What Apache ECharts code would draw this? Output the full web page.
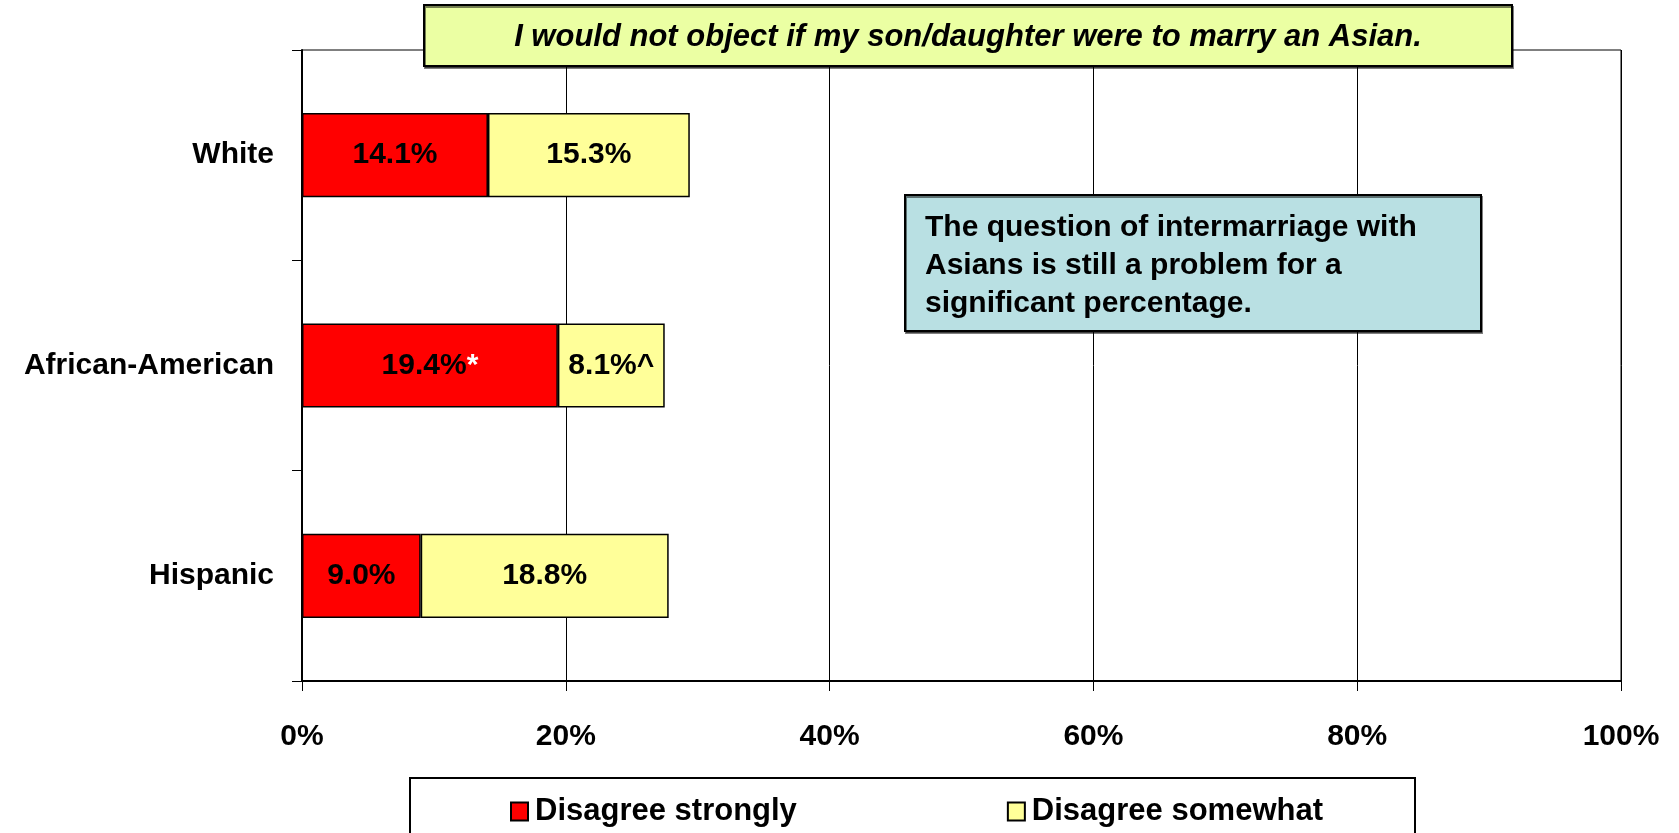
<!DOCTYPE html>
<html>
<head>
<meta charset="utf-8">
<script src="https://cdn.jsdelivr.net/npm/echarts@6/dist/echarts.min.js"></script>
<style>
html,body{margin:0;padding:0;background:#fff;}
#chart{width:1679px;height:833px;}
</style>
</head>
<body>
<div id="chart"></div>
<script>
const categories = ['White', 'African-American', 'Hispanic'];
const seriesNames = ['Disagree strongly', 'Disagree somewhat'];
const strongly = [14.1, 19.4, 9.0];
const somewhat = [15.3, 8.1, 18.8];
const stronglyMarks = ['', '*', ''];
const somewhatMarks = ['', '^', ''];
const xTicks = [0, 20, 40, 60, 80, 100];
const titleText = 'I would not object if my son/daughter were to marry an Asian.';
const noteLines = ['The question of intermarriage with', 'Asians is still a problem for a', 'significant percentage.'];

const FONT = '"Liberation Sans", Arial, Helvetica, sans-serif';
const chart = echarts.init(document.getElementById('chart'));

function labelFor(marks, markColor) {
  return {
    show: true,
    position: 'inside',
    fontFamily: FONT,
    fontWeight: 'bold',
    fontSize: 30,
    color: '#000',
    formatter: function (p) {
      const m = marks[p.dataIndex];
      return p.value.toFixed(1) + '%' + (m ? '{m|' + m + '}' : '');
    },
    rich: {
      m: { color: markColor, fontFamily: FONT, fontWeight: 'bold', fontSize: 30 }
    }
  };
}

const option = {
  backgroundColor: '#fff',
  animation: false,
  grid: {
    left: 302, right: 58, top: 50, bottom: 152,
    show: true, borderColor: '#000', borderWidth: 1, backgroundColor: 'transparent'
  },
  xAxis: {
    type: 'value', min: xTicks[0], max: xTicks[xTicks.length - 1], interval: xTicks[1] - xTicks[0],
    axisLine: { show: true, lineStyle: { color: '#000', width: 2 } },
    axisTick: { show: true, length: 10, lineStyle: { color: '#000', width: 1 } },
    splitLine: { show: true, lineStyle: { color: '#000', width: 1 } },
    axisLabel: { formatter: '{value}%', fontFamily: FONT, fontWeight: 'bold', fontSize: 30, color: '#000', margin: 41 }
  },
  yAxis: {
    type: 'category', data: categories, inverse: true,
    axisLine: { show: true, lineStyle: { color: '#000', width: 2 } },
    axisTick: { show: true, length: 10, lineStyle: { color: '#000', width: 1 } },
    axisLabel: { fontFamily: FONT, fontWeight: 'bold', fontSize: 30, color: '#000', margin: 28, padding: [4, 0, 0, 0] }
  },
  legend: {
    left: 505, top: 791, itemGap: 210, itemWidth: 17, itemHeight: 18,
    icon: 'rect',
    textStyle: { fontFamily: FONT, fontWeight: 'bold', fontSize: 31, color: '#000', padding: [0, 0, 0, 2] },
    data: seriesNames
  },
  series: [
    {
      name: seriesNames[0], type: 'bar', stack: 'total', barWidth: '40%',
      data: strongly,
      itemStyle: { color: '#FF0000', borderColor: '#000', borderWidth: 1.5 },
      label: labelFor(stronglyMarks, '#fff')
    },
    {
      name: seriesNames[1], type: 'bar', stack: 'total', barWidth: '40%',
      data: somewhat,
      itemStyle: { color: '#FFFF99', borderColor: '#000', borderWidth: 1.5 },
      label: labelFor(somewhatMarks, '#000')
    }
  ],
  graphic: [
    {
      type: 'rect', z: 100,
      shape: { x: 424, y: 5, width: 1088, height: 61 },
      style: { fill: '#EBFFA3', stroke: '#000', lineWidth: 2, shadowColor: 'rgba(0,0,0,0.5)', shadowOffsetX: 1, shadowOffsetY: 2 }
    },
    {
      type: 'text', z: 101, x: 968, y: 37,
      style: { text: titleText, fill: '#000', fontFamily: FONT, fontWeight: 'bold', fontStyle: 'italic', fontSize: 31, align: 'center', verticalAlign: 'middle' }
    },
    {
      type: 'rect', z: 100,
      shape: { x: 905, y: 195, width: 576, height: 136 },
      style: { fill: '#B9E0E3', stroke: '#000', lineWidth: 2, shadowColor: 'rgba(0,0,0,0.5)', shadowOffsetX: 1, shadowOffsetY: 2 }
    },
    {
      type: 'text', z: 101, x: 925, y: 266,
      style: { text: noteLines.join('\n'), fill: '#000', fontFamily: FONT, fontWeight: 'bold', fontSize: 30, lineHeight: 38, align: 'left', verticalAlign: 'middle' }
    },
    {
      type: 'rect', z: -1,
      shape: { x: 410, y: 778, width: 1005, height: 70 },
      style: { fill: '#fff', stroke: '#000', lineWidth: 2 }
    }
  ]
};
chart.setOption(option);
</script>
</body>
</html>
